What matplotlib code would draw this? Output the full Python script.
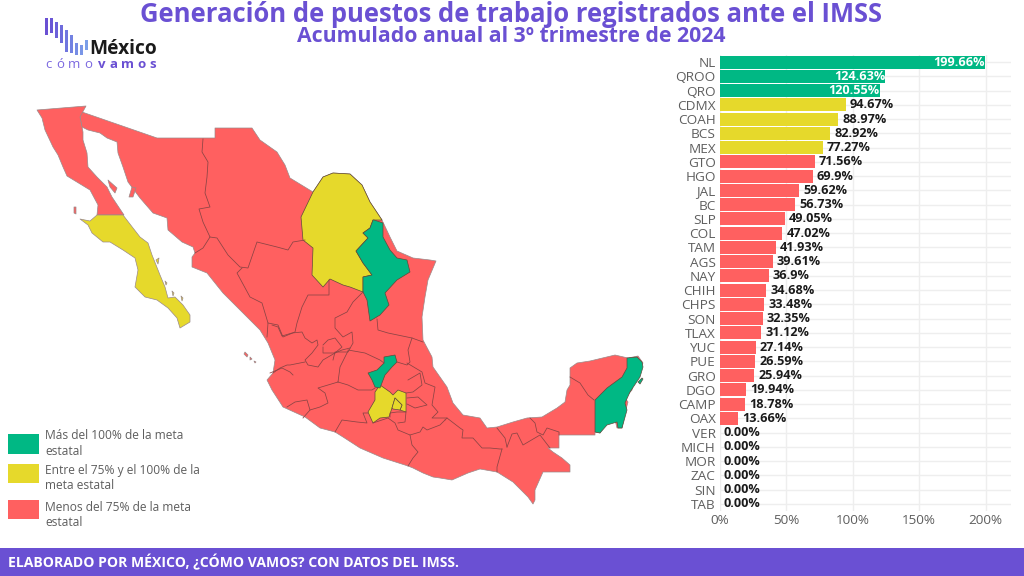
import matplotlib
matplotlib.use('Agg')
from matplotlib import pyplot as plt
from matplotlib.patches import Polygon, Rectangle

GREEN = '#00B884'
YELLOW = '#E6D92B'
RED = '#FF6060'
PURPLE = '#6A50D3'
BORDER = '#8a4444'
COAST = '#9a8a8a'

states = ['NL', 'QROO', 'QRO', 'CDMX', 'COAH', 'BCS', 'MEX', 'GTO', 'HGO', 'JAL', 'BC', 'SLP', 'COL', 'TAM', 'AGS',
          'NAY', 'CHIH', 'CHPS', 'SON', 'TLAX', 'YUC', 'PUE', 'GRO', 'DGO', 'CAMP', 'OAX', 'VER', 'MICH', 'MOR',
          'ZAC', 'SIN', 'TAB']
values = [199.66, 124.63, 120.55, 94.67, 88.97, 82.92, 77.27, 71.56, 69.9, 59.62, 56.73, 49.05, 47.02, 41.93, 39.61,
          36.9, 34.68, 33.48, 32.35, 31.12, 27.14, 26.59, 25.94, 19.94, 18.78, 13.66, 0, 0, 0, 0, 0, 0]
x_ticks = [0, 50, 100, 150, 200]

title = 'Generación de puestos de trabajo registrados ante el IMSS'
subtitle = 'Acumulado anual al 3º trimestre de 2024'
footer = 'ELABORADO POR MÉXICO, ¿CÓMO VAMOS? CON DATOS DEL IMSS.'
legend_labels = ['Más del 100% de la meta\nestatal', 'Entre el 75% y el 100% de la\nmeta estatal',
                 'Menos del 75% de la meta\nestatal']

# map outlines in image pixels
mainland = [(82, 112), (157, 138), (215, 138), (215, 128), (252, 128), (260, 140), (277, 152), (285, 165), (290, 178),
            (313, 192), (323, 177), (333, 173), (350, 174), (362, 185), (370, 202), (382, 220), (390, 237), (397, 251),
            (413, 258), (430, 260), (436, 261), (428, 280), (425, 297), (422, 317), (423, 340), (432, 357), (433, 367),
            (447, 387), (453, 403), (463, 415), (480, 418), (487, 428), (497, 427), (513, 422), (527, 418), (542, 417),
            (557, 408), (565, 402), (567, 390), (570, 385), (570, 368), (577, 363), (590, 361), (615, 355), (628, 358),
            (638, 356), (643, 363), (638, 372), (633, 383), (632, 390), (625, 398), (628, 402), (625, 413), (622, 428),
            (617, 428), (615, 420), (605, 423), (600, 433), (595, 432), (595, 435), (559, 435), (559, 448), (548, 448),
            (553, 452), (562, 458), (570, 465), (570, 472), (543, 472), (535, 490), (535, 500), (533, 504), (528, 497),
            (513, 482), (497, 472), (480, 469), (468, 473), (452, 480), (440, 478), (433, 477), (423, 473), (413, 468),
            (408, 466), (383, 458), (360, 448), (343, 437), (335, 432), (320, 428), (305, 417), (283, 407), (272, 390),
            (267, 380), (273, 373), (275, 360), (268, 343), (260, 330), (247, 317), (223, 293), (207, 273), (192, 267),
            (192, 257), (195, 253), (193, 247), (182, 242), (168, 230), (167, 218), (153, 213), (140, 198), (128, 182),
            (123, 167), (118, 153), (117, 142), (107, 138), (100, 133), (88, 130), (82, 127), (80, 117)]
bc = [(37, 110), (86, 106), (80, 117), (82, 127), (83, 132), (83, 140), (87, 153), (88, 167), (97, 177), (107, 187),
      (112, 197), (124, 215), (97, 215), (98, 205), (90, 190), (67, 176), (63, 167), (58, 155), (53, 147), (45, 130),
      (42, 118)]
bcs = [(80, 219), (88, 225), (92, 233), (103, 242), (110, 242), (123, 250), (135, 258), (138, 270), (135, 287),
       (145, 297), (157, 300), (168, 308), (177, 318), (180, 328), (190, 322), (190, 315), (183, 305), (175, 297),
       (168, 298), (165, 287), (160, 275), (152, 255), (148, 243), (140, 237), (133, 228), (123, 215), (97, 215),
       (90, 221)]
coahuila = [(313, 192), (323, 177), (333, 173), (350, 174), (362, 185), (370, 202), (382, 220), (373, 220), (370, 228),
            (363, 233), (368, 238), (356, 251), (363, 263), (372, 275), (363, 277), (363, 292), (350, 287), (343, 285),
            (330, 279), (323, 287), (312, 275), (313, 248), (303, 240), (301, 217)]
nuevo_leon = [(374, 220), (383, 223), (383, 237), (390, 250), (397, 258), (407, 260), (410, 272), (397, 280),
              (385, 293), (389, 305), (380, 315), (370, 321), (367, 300), (363, 292), (363, 277), (372, 275),
              (363, 263), (356, 251), (368, 238), (363, 233), (370, 228), (373, 220)]
queretaro = [(368, 373), (377, 370), (384, 363), (384, 357), (395, 355), (397, 362), (392, 367), (385, 375), (380, 388),
             (375, 387), (372, 380)]
edomex = [(380, 385), (390, 392), (393, 395), (398, 390), (406, 393), (406, 412), (400, 410), (402, 405), (395, 398),
          (392, 408), (389, 417), (380, 418), (373, 423), (368, 412), (375, 400), (375, 392)]
cdmx = [(392, 408), (395, 398), (402, 405), (400, 410), (393, 409)]
quintana_roo = [(627, 358), (637, 357), (642, 362), (643, 367), (640, 377), (630, 392), (625, 403), (627, 410),
                (622, 428), (618, 428), (617, 422), (607, 425), (600, 433), (595, 432), (595, 400), (607, 388),
                (622, 377), (627, 368)]
islands_red = [[(108, 180), (117, 188), (115, 193), (110, 187)], [(132, 187), (136, 188), (133, 197), (129, 197)],
               [(74, 207), (76, 207), (76, 214), (74, 213)], [(245, 352), (248, 355), (247, 357), (244, 354)],
               [(250, 357), (252, 359), (250, 360)], [(254, 361), (256, 362), (255, 363)]]
islands_yellow = [[(156, 260), (159, 258), (158, 264)], [(181, 296), (183, 298), (182, 301)],
                  [(165, 281), (167, 283), (166, 285)], [(172, 291), (174, 293), (173, 296)]]
cozumel = [(638, 382), (642, 378), (643, 379), (640, 384)]

# state borders, as read in pixels
borders = [
    [(203, 139), (202, 152), (208, 162), (207, 177), (205, 193), (210, 207), (199, 209), (203, 222), (210, 237),
     (203, 248), (195, 253)],
    [(210, 237), (217, 238), (228, 255), (240, 267), (248, 268), (257, 242), (277, 247), (288, 250), (293, 242),
     (305, 240)],
    [(242, 268), (237, 273), (250, 297), (262, 303), (268, 323), (267, 337)],
    [(329, 280), (329, 295), (308, 295), (302, 307), (297, 323), (295, 332), (283, 337), (278, 325), (268, 323)],
    [(363, 292), (353, 302), (347, 312), (335, 318), (335, 328), (343, 337), (352, 332), (353, 343), (348, 352),
     (335, 352), (333, 360)],
    [(377, 319), (378, 330), (388, 333), (412, 338), (423, 342)],
    [(272, 325), (278, 327), (282, 336), (292, 333), (302, 332), (305, 338), (312, 343), (317, 340), (318, 345),
     (312, 353), (305, 360), (308, 365), (318, 367), (323, 360), (335, 353), (342, 350), (350, 348)],
    [(305, 362), (290, 365), (287, 365), (280, 368), (273, 373)],
    [(270, 373), (282, 368), (290, 372), (293, 375)],
    [(323, 345), (328, 340), (335, 338), (342, 347), (335, 353), (323, 353), (323, 347)],
    [(348, 350), (365, 353), (380, 360), (384, 363)],
    [(338, 382), (340, 367), (348, 351)],
    [(338, 382), (348, 385), (358, 390), (372, 390), (375, 388)],
    [(287, 407), (295, 402), (307, 400), (310, 410), (303, 418)],
    [(310, 410), (320, 407), (328, 403), (325, 393), (318, 388), (338, 382)],
    [(335, 432), (342, 420), (357, 422), (367, 423), (363, 413), (368, 413)],
    [(373, 423), (388, 418), (395, 423), (398, 430), (410, 435), (420, 432), (423, 427), (427, 430), (440, 425),
     (445, 420)],
    [(390, 417), (390, 413), (397, 412), (406, 412), (405, 422), (398, 423)],
    [(407, 398), (418, 397), (427, 405), (415, 408), (407, 404)],
    # Hidalgo, Puebla, Veracruz
    [(397, 362), (407, 365), (410, 362), (408, 350), (412, 338)],
    [(407, 363), (422, 372), (425, 383), (435, 387), (432, 405), (438, 412), (432, 418), (447, 418)],
    [(408, 380), (420, 373), (422, 385), (413, 392), (406, 393)],
    [(410, 435), (412, 445), (418, 452), (413, 458), (408, 466)],
    [(445, 420), (447, 418), (460, 428), (463, 430), (462, 438), (473, 438), (482, 448), (490, 448), (500, 449),
     (502, 449)],
    [(502, 449), (497, 467), (497, 472)],
    [(497, 428), (505, 438), (507, 447)],
    [(507, 447), (512, 434), (517, 433), (523, 445), (540, 435), (550, 448)],
    [(530, 418), (535, 423), (537, 432), (543, 435), (547, 428), (559, 432), (559, 435)],
    [(570, 377), (580, 383), (588, 395), (594, 400)],
]

# logo parts
logo_colors = ['#6A50D3', '#6A56D6', '#6C60D9', '#6E6BDC', '#7076DF', '#7382E2', '#768CE4', '#7A96E7', '#7A9EE9']
logo_x = [45, 50, 55, 60, 65, 70, 75, 80, 85]
logo_top = [18, 18, 22, 25, 30, 35, 43, 45, 40]
logo_bottom = [35, 33, 38, 43, 52, 53, 55, 55, 50]
logo_light = ['c', 'ó', 'm', 'o']
logo_light_x = [48, 60, 74, 88]
logo_bold = ['v', 'a', 'm', 'o', 's']
logo_bold_x = [102, 113, 128, 141, 153]

fig = plt.figure(figsize=(10.24, 5.76), dpi=100)
plt.rcParams['font.family'] = ['Open Sans', 'Noto Sans', 'DejaVu Sans']

# canvas in image pixels, for the map, the texts and the footer
canvas = fig.add_axes([0, 0, 1, 1])
canvas.set_xlim(0, 1024)
canvas.set_ylim(576, 0)
canvas.axis('off')

edge = dict(edgecolor=COAST, linewidth=0.5, joinstyle='round')
for shape in [mainland, bc] + islands_red:
    canvas.add_patch(Polygon(shape, facecolor=RED, **edge))
for shape in [bcs] + islands_yellow:
    canvas.add_patch(Polygon(shape, facecolor=YELLOW, **edge))
for line in borders:
    canvas.plot([p[0] for p in line], [p[1] for p in line], color=BORDER, linewidth=0.55)
inner = dict(edgecolor='#5e4a3a', linewidth=0.5, joinstyle='round')
for shape in [coahuila, edomex, cdmx]:
    canvas.add_patch(Polygon(shape, facecolor=YELLOW, **inner))
for shape in [nuevo_leon, queretaro, quintana_roo, cozumel]:
    canvas.add_patch(Polygon(shape, facecolor=GREEN, **inner))

canvas.text(511, 14.5, title, color=PURPLE, fontsize=18.45, fontweight='bold', ha='center', va='center')
canvas.text(511, 37, subtitle, color=PURPLE, fontsize=15.3, fontweight='bold', ha='center', va='center')

# logo
for lx, lt, lb, lc in zip(logo_x, logo_top, logo_bottom, logo_colors):
    canvas.add_patch(Rectangle((lx, lt), 3.2, lb - lt, facecolor=lc, edgecolor='none'))
canvas.text(89.5, 49.5, 'México', color='#1a1a1a', fontsize=13.8, fontweight='bold', ha='left', va='center')
for lx, ch in zip(logo_light_x, logo_light):
    canvas.text(lx, 65, ch, color='#7B68E0', fontsize=9.5, ha='center', va='center')
for lx, ch in zip(logo_bold_x, logo_bold):
    canvas.text(lx, 65, ch, color=PURPLE, fontsize=9.5, fontweight='bold', ha='center', va='center')

# legend
legend_tops = [433.5, 464, 500]
legend_heights = [20.5, 19, 18.5]
legend_text_y = [443.5, 478, 515]
for lt, lh, ly, lc, lab in zip(legend_tops, legend_heights, legend_text_y, [GREEN, YELLOW, RED], legend_labels):
    canvas.add_patch(Rectangle((8, lt), 31, lh, facecolor=lc, edgecolor='none'))
    canvas.text(45, ly, lab, color='#5e5e5e', fontsize=8.65, ha='left', va='center', linespacing=1.25)

canvas.add_patch(Rectangle((0, 548), 1024, 28, facecolor=PURPLE, edgecolor='none'))
canvas.text(8, 562.5, footer, color='white', fontsize=10.05, fontweight='bold', ha='left', va='center')

# bars
ax = fig.add_axes([720 / 1024, 1 - 511 / 576, 291 / 1024, 456 / 576])
positions = list(range(len(states)))
bar_colors = [GREEN if v > 100 else YELLOW if v >= 75 else RED for v in values]
ax.barh(positions, values, height=0.9, color=bar_colors, zorder=3)
ax.set_xlim(0, 219.2)
ax.set_ylim(31.5, -0.5)
ax.set_yticks(positions, states)
ax.set_xticks(x_ticks, [f'{t}%' for t in x_ticks])
ax.tick_params(axis='both', length=0, labelsize=9.7, labelcolor='#5e5e5e')
ax.tick_params(axis='y', pad=3)
ax.tick_params(axis='x', pad=2.5)
ax.grid(True, color='#eeeeee', linewidth=1, zorder=0)
ax.set_axisbelow(True)
for side in ax.spines:
    ax.spines[side].set_visible(False)

for pos, val in zip(positions, values):
    label = '0.00%' if val == 0 else f'{val:g}%'
    if val > 100:
        ax.text(val - 0.3, pos, label, color='white', fontsize=9.1, fontweight='bold', ha='right', va='center',
                zorder=4)
    else:
        ax.text(val + 3, pos, label, color='#1a1a1a', fontsize=9.1, fontweight='bold', ha='left', va='center',
                zorder=4)

fig.savefig('out.png', dpi=100)
